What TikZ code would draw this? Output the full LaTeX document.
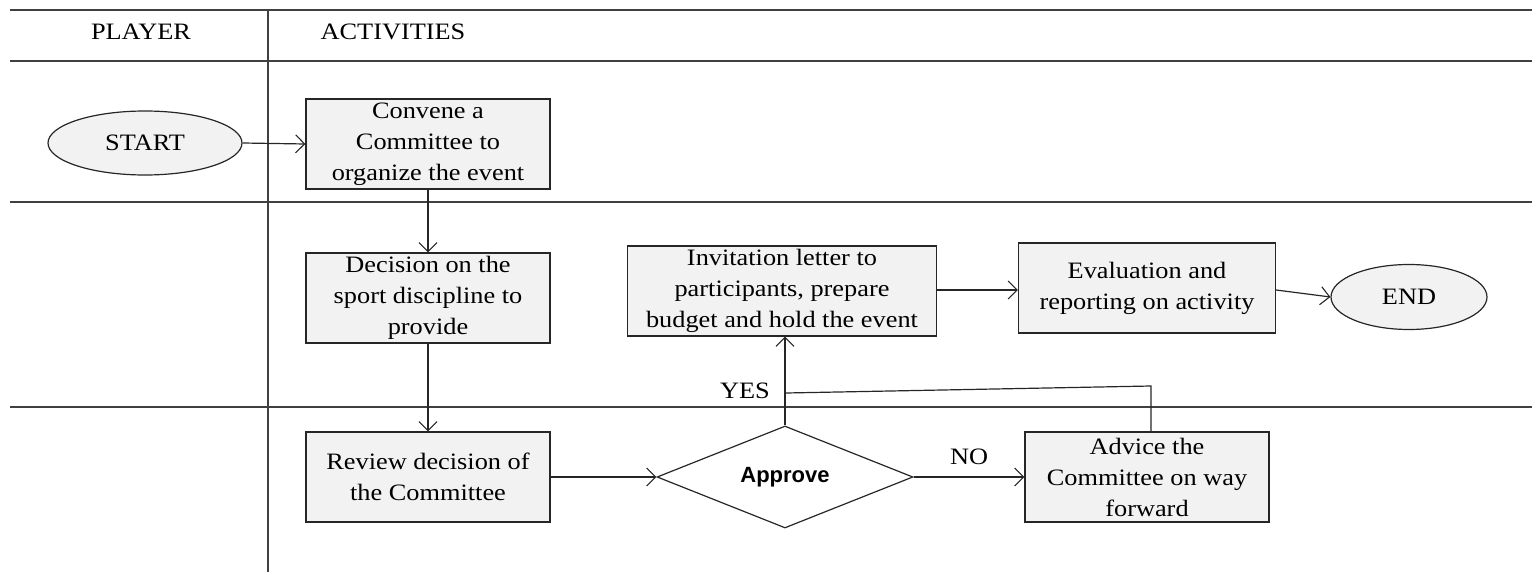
\documentclass[tikz,border=0pt]{standalone}
\usepackage{fontspec}
\setmainfont{Liberation Serif}[FakeStretch=1.12]
\newfontfamily\apfont{Liberation Sans}
\usetikzlibrary{shapes.geometric,arrows.meta}
\begin{document}
\begin{tikzpicture}[x=1pt,y=-1pt,
  grid/.style={line width=1.3pt,draw=black!75},
  stepbox/.style={draw=black!85,line width=1.2pt,fill=black!5,minimum width=244pt,minimum height=90pt,inner sep=0pt,align=center,font=\fontsize{23.5}{31}\selectfont},
  term/.style={ellipse,draw=black!85,line width=1.2pt,fill=black!5,inner sep=0pt,font=\fontsize{23.5}{31}\selectfont},
  conn/.style={line width=1.2pt,draw=black!85,-{Straight Barb[length=9pt,width=18pt,line width=1.1pt]}},
  plain/.style={line width=1.2pt,draw=black!85},
  lbl/.style={font=\fontsize{23.5}{27}\selectfont,inner sep=0pt}]
\useasboundingbox (0,0) rectangle (1532,572);
% grid
\draw[grid] (10,10) -- (1532,10);
\draw[grid] (10,61) -- (1532,61);
\draw[grid] (10,202) -- (1532,202);
\draw[grid] (10,407) -- (1532,407);
\draw[grid] (268,10) -- (268,572);
\node[lbl] (hplayer) at (141,32) {PLAYER};
\node[lbl] (hact) at (393,32) {ACTIVITIES};
% nodes
\node[term,minimum width=194pt,minimum height=64pt] (start) at (145,143) {START};
\node[stepbox] (convene) at (428,144) {Convene a\\Committee to\\organize the event};
\node[stepbox] (decide) at (428,298) {Decision on the\\sport discipline to\\provide};
\node[stepbox] (review) at (428,477) {Review decision of\\the Committee};
\node[diamond,aspect=2.5,draw=black!85,line width=1.2pt,minimum width=256pt,minimum height=102pt,inner sep=0pt,font=\fontsize{22}{26}\selectfont] (approve) at (785,477) {\apfont\bfseries Approve};
\node[stepbox] (advice) at (1147,477) {Advice the\\Committee on way\\forward};
\node[stepbox,minimum width=309pt] (invite) at (782,291) {Invitation letter to\\participants, prepare\\budget and hold the event};
\node[stepbox,minimum width=257pt] (eval) at (1147,288) {Evaluation and\\reporting on activity};
\node[term,minimum width=156pt,minimum height=65pt] (end) at (1409,297) {END};
% connectors
\draw[conn] (start.east) -- (convene.west);
\draw[conn] (convene.south) -- (decide.north);
\draw[conn] (decide.south) -- (review.north);
\draw[conn] (review.east) -- (approve.west);
\draw[conn] (approve.east) -- node[lbl,above=12pt] (nolbl) {NO} (advice.west);
\draw[conn] (approve.north) -- (approve.north |- invite.south);
\coordinate (yesj) at (786,393);
\coordinate (advup) at (1151,386);
\draw[plain] (advice.north -| advup) -- (advup) -- (yesj);
\node[lbl,anchor=east] (yeslbl) at (770,391) {YES};
\draw[conn] (invite.east |- 0,290) -- (eval.west |- 0,290);
\draw[conn] (eval.east |- 0,290) -- (end.west);
\end{tikzpicture}
\end{document}
